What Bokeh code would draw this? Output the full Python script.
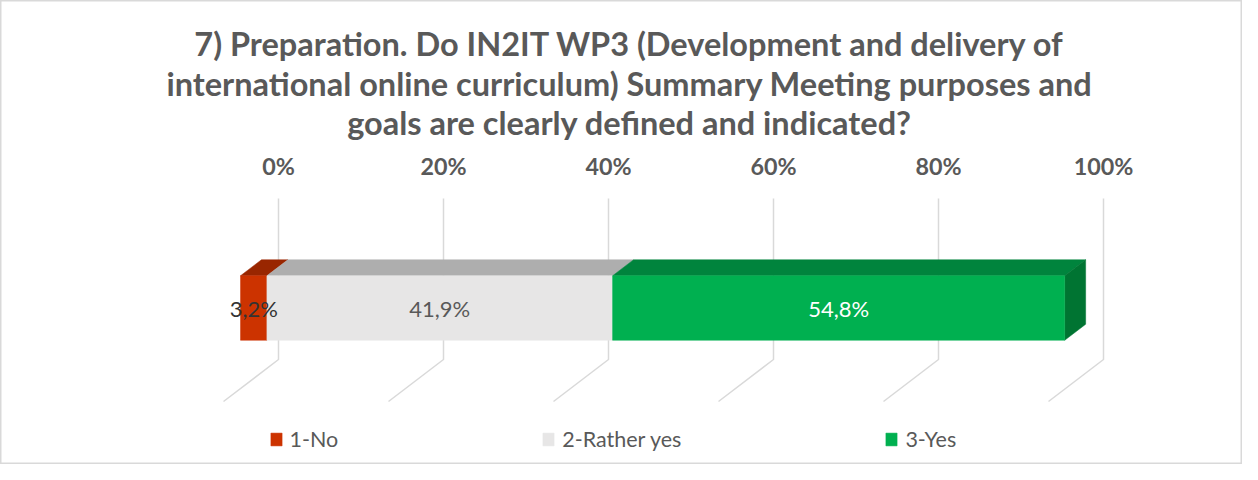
from bokeh.plotting import figure
from bokeh.models import Range1d, Legend, LegendItem
from bokeh.core.properties import value
from bokeh.embed import file_html
from bokeh.resources import INLINE

# ---- data ----
series = ["1-No", "2-Rather yes", "3-Yes"]
values = [3.2, 41.9, 54.8]
value_labels = ["3,2%", "41,9%", "54,8%"]
ticks = [0, 20, 40, 60, 80, 100]
tick_labels = ["0%", "20%", "40%", "60%", "80%", "100%"]
title_lines = [
    "7) Preparation. Do IN2IT WP3 (Development and delivery of",
    "international online curriculum) Summary Meeting purposes and",
    "goals are clearly defined and indicated?",
]

# ---- style ----
front_colors = ["#CC3300", "#E7E6E6", "#00B050"]
top_colors = ["#992600", "#AEAEAE", "#00843D"]
side_color = "#007432"
label_colors = ["#333333", "#595959", "#FFFFFF"]
TXT = "#595959"
FONT = "Lato"

PX = 8.25            # pixels per percent unit
FULL_DX = -55 / PX   # floor depth shift in x (units)
FULL_DY = -42        # floor depth shift in y
K = 55 / 42          # x px per y px of depth
FRONT_DX = -29 * K / PX
BACK_DX = -13 * K / PX
HALF_H = 32.25
DEPTH = 16

W, H = 1242, 464
p = figure(width=W, height=H, output_backend="svg", toolbar_location=None,
           x_range=Range1d((0 - 278) / PX, (W - 278) / PX),
           y_range=Range1d(307.5 - H, 307.5),
           min_border=0)
p.axis.visible = False
p.grid.visible = False
p.outline_line_color = "#D9D9D9"
p.outline_line_width = 2
p.background_fill_color = "white"
p.border_fill_color = "white"

# gridlines: back wall + floor
wall_top, wall_bot = 109.5, -51.5
xs = [[t, t, t + FULL_DX] for t in ticks]
ys = [[wall_top, wall_bot, wall_bot + FULL_DY] for _ in ticks]
p.multi_line(xs=xs, ys=ys, line_color="#D9D9D9", line_width=1.5)

# tick labels
p.text(x=ticks, y=[142.5] * len(ticks), text=tick_labels, text_align="center",
       text_baseline="middle", text_font=value(FONT), text_font_style="bold",
       text_font_size="23.3px", text_color=TXT)

# title
title_y = [264.5, 224.5, 185.5]
for line, ty in zip(title_lines, title_y):
    p.text(x=[(629 - 278) / PX], y=[ty], text=[line], text_align="center",
           text_baseline="middle", text_font=value(FONT), text_font_style="bold",
           text_font_size="32.5px", text_color=TXT)

# 3D stacked bar
starts = []
acc = 0.0
for v in values:
    starts.append(acc)
    acc += v
ends = [s + v for s, v in zip(starts, values)]

# top faces
top_xs = [[s + FRONT_DX, e + FRONT_DX, e + BACK_DX, s + BACK_DX] for s, e in zip(starts, ends)]
top_ys = [[HALF_H, HALF_H, HALF_H + DEPTH, HALF_H + DEPTH] for _ in values]
p.patches(xs=top_xs, ys=top_ys, fill_color=top_colors, line_color=top_colors, line_width=0.5)

# right side face of the last segment
e = ends[-1]
p.patch(x=[e + FRONT_DX, e + BACK_DX, e + BACK_DX, e + FRONT_DX],
        y=[HALF_H, HALF_H + DEPTH, -HALF_H + DEPTH, -HALF_H],
        fill_color=side_color, line_color=side_color, line_width=0.5)

# front faces
front_renderers = []
for s, e, c in zip(starts, ends, front_colors):
    r = p.quad(left=[s + FRONT_DX], right=[e + FRONT_DX], bottom=[-HALF_H], top=[HALF_H],
               fill_color=c, line_color=c, line_width=0.5)
    front_renderers.append(r)

# data labels
mids = [(s + e) / 2 + FRONT_DX for s, e in zip(starts, ends)]
p.text(x=mids, y=[0] * len(mids), text=value_labels, text_align="center",
       text_baseline="middle", text_font=value(FONT), text_font_size="22px",
       text_color=label_colors)

# legend
items = [LegendItem(label=s, renderers=[r]) for s, r in zip(series, front_renderers)]
legend = Legend(items=items, orientation="horizontal", location=(268.5, 12.5),
                glyph_width=14, glyph_height=16, label_standoff=7, spacing=203,
                padding=0, margin=0, border_line_alpha=0, background_fill_alpha=0,
                label_text_font=FONT, label_text_font_size="21.5px",
                label_text_color=TXT)
p.add_layout(legend, "center")

open("out.html", "w").write(file_html(p, INLINE))
